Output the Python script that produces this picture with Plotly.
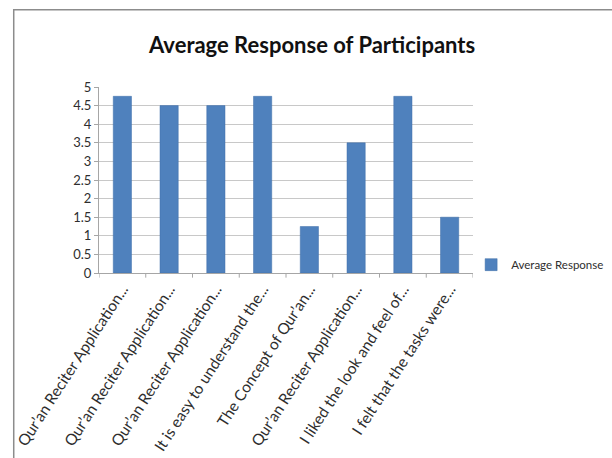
import plotly.graph_objects as go

categories = [
    "Qur’an Reciter Application...",
    "Qur’an Reciter Application...",
    "Qur’an Reciter Application...",
    "It is easy to understand the...",
    "The Concept of Qur’an...",
    "Qur’an Reciter Application...",
    "I liked the look and feel of...",
    "I felt that the tasks were...",
]
values = [4.75, 4.5, 4.5, 4.75, 1.25, 3.5, 4.75, 1.5]
series_name = "Average Response"
title_text = "Average Response of Participants"
ytick_vals = [0, 0.5, 1, 1.5, 2, 2.5, 3, 3.5, 4, 4.5, 5]
ytick_text = ["0", "0.5", "1", "1.5", "2", "2.5", "3", "3.5", "4", "4.5", "5"]

FONT = "Lato, Open Sans, Arial"

x_idx = list(range(len(categories)))

fig = go.Figure()
fig.add_trace(go.Bar(
    x=x_idx, y=values, name=series_name,
    marker=dict(color="#4F81BD", line=dict(color="#3f6fa8", width=0.5)),
    showlegend=True,
))

fig.update_layout(
    width=612, height=458,
    margin=dict(l=99, r=139, t=87, b=185, autoexpand=False),
    paper_bgcolor="white", plot_bgcolor="white",
    bargap=0.61,
    title=dict(text="<b>" + title_text + "</b>", x=0.51, xanchor="center",
               y=0.902, yanchor="middle",
               font=dict(family=FONT, size=22, color="#111111")),
    font=dict(family=FONT, color="#333333"),
    xaxis=dict(
        tickmode="array", tickvals=x_idx, ticktext=categories,
        tickangle=-57, tickfont=dict(family=FONT, size=15.5, color="#2e2e2e"),
        range=[-0.5, len(categories) - 0.5],
        showline=True, linecolor="#a6a6a6", linewidth=1,
        ticks="", showgrid=False, zeroline=False, automargin=False,
    ),
    yaxis=dict(
        range=[0, 5], tickmode="array", tickvals=ytick_vals, ticktext=ytick_text,
        tickfont=dict(family=FONT, size=13, color="#2e2e2e"),
        showgrid=True, gridcolor="#c8c8c8", gridwidth=1,
        showline=True, linecolor="#a6a6a6", linewidth=1,
        ticks="outside", ticklen=4, tickcolor="#a6a6a6",
        zeroline=False, automargin=False,
    ),
    legend=dict(x=0.995, y=0.045, xanchor="left", yanchor="middle",
                font=dict(family=FONT, size=11.5, color="#2e2e2e"),
                bgcolor="rgba(0,0,0,0)", itemwidth=30),
)

# category boundary tick marks on x-axis
shapes = []
for i in range(len(categories) + 1):
    shapes.append(dict(type="line", xref="x", yref="paper",
                       x0=i - 0.5, x1=i - 0.5, y0=0, y1=-0.025,
                       line=dict(color="#a6a6a6", width=1)))
# outer chart border (top and left visible)
shapes.append(dict(type="rect", xref="paper", yref="paper",
                   x0=-0.228, x1=1.5, y0=-1.0, y1=1.415,
                   line=dict(color="#8c8c8c", width=1.5),
                   fillcolor="rgba(0,0,0,0)", layer="below"))
fig.update_layout(shapes=shapes)

fig.write_html("out.html", config={"displayModeBar": False},
               post_script="document.body.style.margin='0';")
